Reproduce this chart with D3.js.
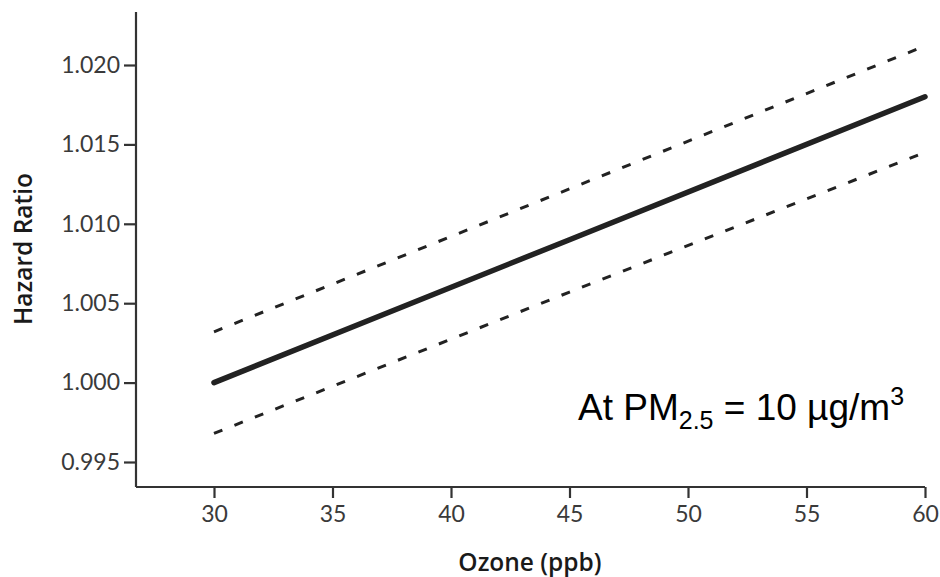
<!DOCTYPE html>
<html>
<head>
<meta charset="utf-8">
<script src="https://cdn.jsdelivr.net/npm/d3@7"></script>
<style>
  body { margin: 0; background: #fff; }
  .tick text { font-family: Lato, "Open Sans", sans-serif; font-size: 23px; fill: #3a3a3a; }
  .axis-title { font-family: "Open Sans", Lato, sans-serif; font-weight: 600; font-size: 24.5px; fill: #1a1a1a; }
</style>
</head>
<body>
<svg id="chart" width="940" height="577"></svg>
<script>
// ozone levels and hazard ratios
var ozone = [30, 45, 60];
var hazard = [1.000, 1.009, 1.018];
var upperCI = [1.0032, 1.0122, 1.0212];
var lowerCI = [0.9968, 1.0057, 1.0145];
var xTicks = [30, 35, 40, 45, 50, 55, 60];
var yTicks = [0.995, 1.000, 1.005, 1.010, 1.015, 1.020];

var svg = d3.select("#chart");

// plot area
var plotLeft = 136, plotTop = 12, plotBottom = 487;

var x = d3.scaleLinear().domain([30, 60]).range([214, 925]);
var y = d3.scaleLinear().domain([0.995, 1.020]).range([462, 65]);

// axes
var xAxis = svg.append("g")
    .attr("transform", "translate(0," + plotBottom + ")")
    .call(d3.axisBottom(x).tickValues(xTicks).tickSize(11).tickPadding(8).tickFormat(d3.format("d")));
xAxis.select(".domain").attr("d", "M" + plotLeft + ",0H" + x(60));

var yAxis = svg.append("g")
    .attr("transform", "translate(" + plotLeft + ",0)")
    .call(d3.axisLeft(y).tickValues(yTicks).tickSize(12).tickPadding(4).tickFormat(d3.format(".3f")));
yAxis.select(".domain").attr("d", "M0," + plotTop + "V" + plotBottom);

svg.selectAll(".domain, .tick line").attr("stroke", "#333").attr("stroke-width", 2.2);

// lines
var line = function(vals) {
  return d3.line()
    .x(function(d, i) { return x(ozone[i]); })
    .y(function(d) { return y(d); })(vals);
};

svg.append("path").attr("d", line(upperCI))
  .attr("fill", "none").attr("stroke", "#222").attr("stroke-width", 3)
  .attr("stroke-dasharray", "9,13");
svg.append("path").attr("d", line(lowerCI))
  .attr("fill", "none").attr("stroke", "#222").attr("stroke-width", 3)
  .attr("stroke-dasharray", "9,13");
svg.append("path").attr("d", line(hazard))
  .attr("fill", "none").attr("stroke", "#222").attr("stroke-width", 5.5)
  .attr("stroke-linecap", "round");

// axis titles
svg.append("text")
  .attr("class", "axis-title")
  .attr("x", 530).attr("y", 571)
  .attr("text-anchor", "middle")
  .text("Ozone (ppb)");

svg.append("text")
  .attr("class", "axis-title")
  .attr("transform", "translate(32,249) rotate(-90)")
  .attr("text-anchor", "middle")
  .text("Hazard Ratio");

// annotation
var note = svg.append("text")
  .attr("x", 578).attr("y", 420)
  .style("font-family", "'Liberation Sans', Arial, sans-serif")
  .style("font-size", "37px").style("fill", "#000");
note.append("tspan").text("At PM");
note.append("tspan").attr("dy", 9).style("font-size", "25px").text("2.5");
note.append("tspan").attr("dy", -9).text(" = 10 µg/m");
note.append("tspan").attr("dy", -15).style("font-size", "25px").text("3");
</script>
</body>
</html>
